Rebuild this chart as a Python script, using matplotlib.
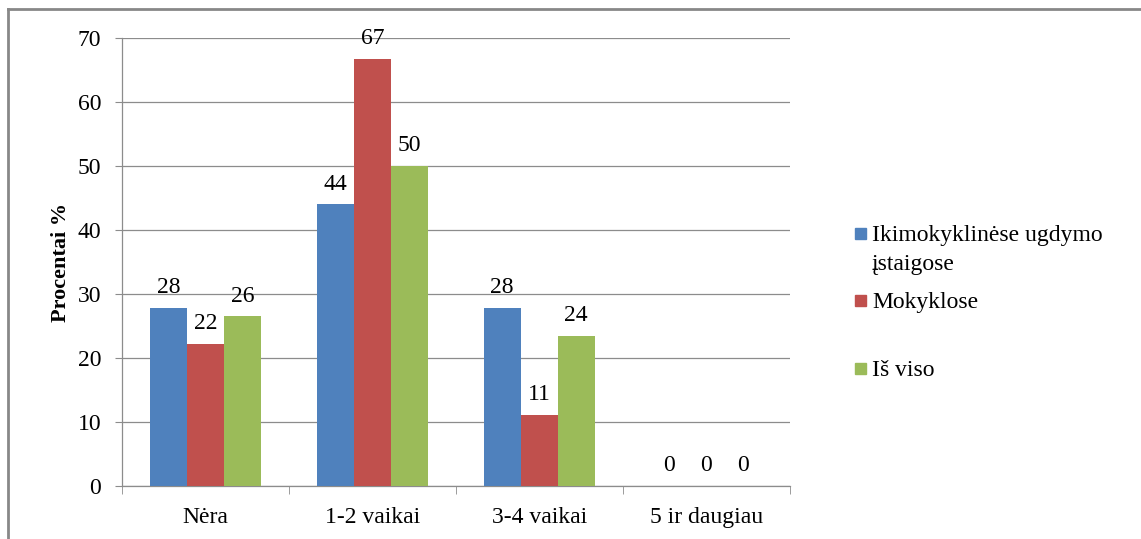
import matplotlib
matplotlib.use("Agg")
import matplotlib.pyplot as plt
from matplotlib.lines import Line2D
import numpy as np

categories = ["Nėra", "1-2 vaikai", "3-4 vaikai", "5 ir daugiau"]
series_names = ["Ikimokyklinėse ugdymo\nįstaigose", "Mokyklose", "Iš viso"]
ikimokyklines = [27.8, 44.0, 27.8, 0.0]
mokyklose = [22.2, 66.7, 11.1, 0.0]
is_viso = [26.5, 50.0, 23.5, 0.0]
colors = ["#4F81BD", "#C0504D", "#9BBB59"]
yticks = [0, 10, 20, 30, 40, 50, 60, 70]

plt.rcParams['font.family'] = ['Liberation Serif', 'DejaVu Serif']
FS = 17

fig = plt.figure(figsize=(11.41, 5.39), dpi=100)
ax = fig.add_axes([0.107, 0.0983, 0.585, 0.8312])

x = np.arange(len(categories))
w = 0.222
data = [ikimokyklines, mokyklose, is_viso]
for i, (vals, c) in enumerate(zip(data, colors)):
    bars = ax.bar(x + (i - 1) * w, vals, width=w, color=c, zorder=3)
    for b, v in zip(bars, vals):
        ax.annotate(f"{v:.0f}", (b.get_x() + b.get_width() / 2, v),
                    xytext=(0, 7), textcoords="offset points",
                    ha="center", va="bottom", fontsize=FS)

ax.set_xlim(-0.5, 3.5)
ax.set_ylim(0, 70)
ax.set_yticks(yticks)
ax.set_yticklabels([str(t) for t in yticks], fontsize=FS)
ax.yaxis.grid(True, color="#8C8C8C", linewidth=0.9, zorder=0)
ax.set_axisbelow(True)

ax.set_xticks(x)
ax.set_xticklabels(categories, fontsize=FS)
ax.tick_params(axis="x", length=0, pad=15)
ax.set_xticks(np.arange(-0.5, 4.0, 1.0), minor=True)
ax.tick_params(axis="x", which="minor", length=6, color="#8C8C8C", direction="out")
ax.tick_params(axis="y", length=5, color="#8C8C8C", pad=10)

for s in ["top", "right"]:
    ax.spines[s].set_visible(False)
for s in ["left", "bottom"]:
    ax.spines[s].set_color("#8C8C8C")
    ax.spines[s].set_linewidth(0.9)

ax.set_ylabel("Procentai %", fontsize=16, fontweight="bold", labelpad=5)

# legend entries placed manually (pixel rows of each text line)
sq_left, sq_w = 855 / 1141, 11 / 1141
sq_h = 11 / 539
tx = 872 / 1141
legend_rows = [[233, 262], [300], [368]]
for rows, name, c in zip(legend_rows, series_names, colors):
    y0 = 1 - rows[0] / 539
    fig.patches.append(plt.Rectangle((sq_left, y0 - sq_h / 2), sq_w, sq_h,
                                     transform=fig.transFigure, color=c))
    for py, line in zip(rows, name.split("\n")):
        fig.text(tx, 1 - py / 539, line, fontsize=FS, va="center_baseline", ha="left")

# figure border (top and left visible)
fig.add_artist(Line2D([8 / 1141, 8 / 1141], [0, 1 - 9 / 539], color="#888888",
                      linewidth=2, transform=fig.transFigure))
fig.add_artist(Line2D([8 / 1141, 1], [1 - 9 / 539, 1 - 9 / 539], color="#888888",
                      linewidth=2, transform=fig.transFigure))

fig.savefig("out.png", dpi=100)
